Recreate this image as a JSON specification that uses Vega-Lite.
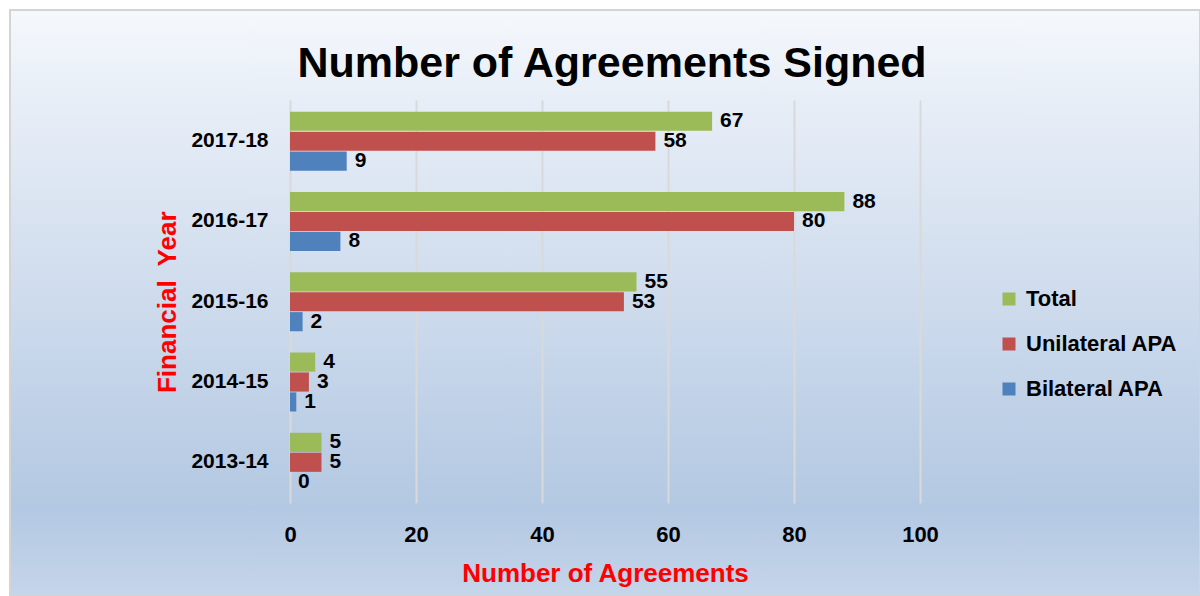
{
  "$schema": "https://vega.github.io/schema/vega-lite/v6.json",
  "width": 1190,
  "height": 586,
  "autosize": {"type": "none"},
  "padding": {"left": 10, "top": 10, "right": 0, "bottom": 0},
  "background": "#ffffff",
  "title": {
    "text": "Number of Agreements Signed",
    "font": "Liberation Sans",
    "fontWeight": "bold",
    "fontSize": 43,
    "color": "#000000",
    "anchor": "middle",
    "frame": "group",
    "offset": -76,
    "dx": 7
  },
  "data": {
    "values": [
      {"year": "2017-18", "series": "Total", "value": 67},
      {"year": "2017-18", "series": "Unilateral APA", "value": 58},
      {"year": "2017-18", "series": "Bilateral APA", "value": 9},
      {"year": "2016-17", "series": "Total", "value": 88},
      {"year": "2016-17", "series": "Unilateral APA", "value": 80},
      {"year": "2016-17", "series": "Bilateral APA", "value": 8},
      {"year": "2015-16", "series": "Total", "value": 55},
      {"year": "2015-16", "series": "Unilateral APA", "value": 53},
      {"year": "2015-16", "series": "Bilateral APA", "value": 2},
      {"year": "2014-15", "series": "Total", "value": 4},
      {"year": "2014-15", "series": "Unilateral APA", "value": 3},
      {"year": "2014-15", "series": "Bilateral APA", "value": 1},
      {"year": "2013-14", "series": "Total", "value": 5},
      {"year": "2013-14", "series": "Unilateral APA", "value": 5},
      {"year": "2013-14", "series": "Bilateral APA", "value": 0}
    ]
  },
  "encoding": {
    "y": {
      "field": "year",
      "type": "nominal",
      "sort": ["2017-18", "2016-17", "2015-16", "2014-15", "2013-14"],
      "scale": {"range": [90.5, 493], "paddingInner": 0.265, "paddingOuter": 0.14},
      "axis": {
        "orient": "left",
        "offset": -280,
        "domain": false,
        "ticks": false,
        "grid": false,
        "labelPadding": 22,
        "labelFont": "Liberation Sans",
        "labelFontWeight": "bold",
        "labelFontSize": 21,
        "labelColor": "#000000",
        "title": "Financial\u00a0 Year",
        "titleFont": "Liberation Sans",
        "titleFontWeight": "bold",
        "titleFontSize": 26,
        "titleColor": "#ff0000",
        "titlePadding": 10
      }
    },
    "yOffset": {
      "field": "series",
      "type": "nominal",
      "sort": ["Total", "Unilateral APA", "Bilateral APA"],
      "scale": {"paddingInner": 0.04}
    },
    "x": {
      "field": "value",
      "type": "quantitative",
      "scale": {"domain": [0, 100], "range": [280, 910]},
      "axis": {
        "orient": "bottom",
        "offset": -93,
        "values": [0, 20, 40, 60, 80, 100],
        "grid": false,
        "domain": false,
        "tickSize": -403,
        "tickWidth": 2,
        "tickColor": "#d9d9d9",
        "labelFlush": false,
        "labelOverlap": false,
        "labelPadding": 424,
        "labelFont": "Liberation Sans",
        "labelFontWeight": "bold",
        "labelFontSize": 22,
        "labelColor": "#000000",
        "title": "Number of Agreements",
        "titleFont": "Liberation Sans",
        "titleFontWeight": "bold",
        "titleFontSize": 26,
        "titleColor": "#ff0000",
        "titlePadding": 15
      }
    }
  },
  "layer": [
    {
      "mark": {"type": "bar"},
      "encoding": {
        "color": {
          "field": "series",
          "type": "nominal",
          "scale": {
            "domain": ["Total", "Unilateral APA", "Bilateral APA"],
            "range": ["#9bbb59", "#c0504d", "#4f81bd"]
          },
          "legend": {
            "orient": "none",
            "legendX": 988,
            "legendY": 278,
            "title": null,
            "symbolType": "square",
            "symbolSize": 169,
            "symbolStrokeWidth": 0,
            "labelFont": "Liberation Sans",
            "labelFontWeight": "bold",
            "labelFontSize": 22,
            "labelColor": "#000000",
            "labelOffset": 6,
            "rowPadding": 23
          }
        }
      }
    },
    {
      "mark": {
        "type": "text",
        "align": "left",
        "baseline": "middle",
        "dx": 8,
        "font": "Liberation Sans",
        "fontWeight": "bold",
        "fontSize": 21,
        "color": "#000000"
      },
      "encoding": {
        "text": {"field": "value", "type": "quantitative"}
      }
    }
  ],
  "config": {
    "view": {
      "fill": {
        "gradient": "linear",
        "x1": 0, "y1": 0, "x2": 0, "y2": 1,
        "stops": [
          {"offset": 0, "color": "#f5f8fc"},
          {"offset": 0.15, "color": "#e8eef7"},
          {"offset": 0.85, "color": "#b3c8e2"},
          {"offset": 1, "color": "#c5d5ea"}
        ]
      },
      "stroke": "#d4d4d4",
      "strokeWidth": 2
    }
  }
}
